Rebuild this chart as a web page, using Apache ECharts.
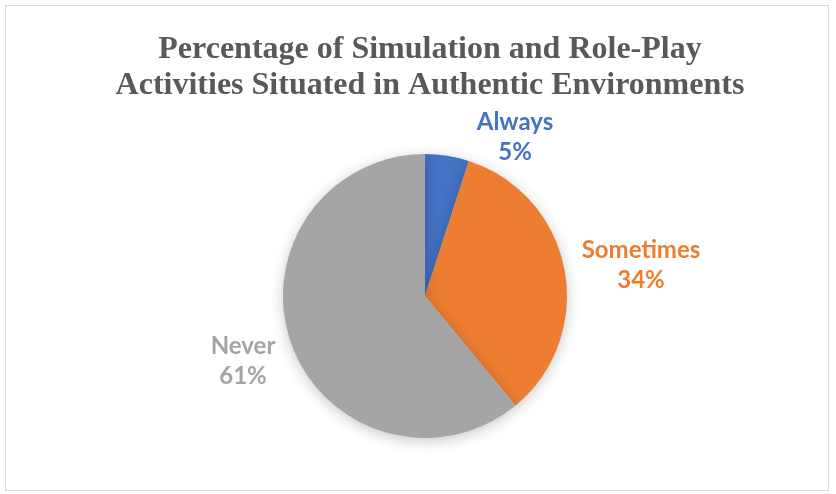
<!DOCTYPE html>
<html>
<head>
<meta charset="utf-8">
<script src="https://cdn.jsdelivr.net/npm/echarts@6/dist/echarts.min.js"></script>
<style>
  html, body { margin: 0; padding: 0; background: #fff; }
  #frame { position: absolute; left: 5px; top: 5px; width: 824px; height: 486px; border: 1px solid #d9d9d9; box-sizing: border-box; }
  #chart { width: 836px; height: 494px; position: absolute; left: 0; top: 0; }
</style>
</head>
<body>
<div id="frame"></div>
<div id="chart"></div>
<script>
// Survey answers and their shares (%)
const categories = ['Always', 'Sometimes', 'Never'];
const shares = [5, 34, 61];
const colors = ['#4472C4', '#ED7D31', '#A5A5A5'];
// Where each two-line label sits (centre of text block)
const labelSpots = [[515, 137], [641, 265], [243, 361]];

const chart = echarts.init(document.getElementById('chart'), null, { renderer: 'canvas' });

chart.setOption({
  animation: false,
  title: {
    text: 'Percentage of Simulation and Role-Play\nActivities Situated in Authentic Environments',
    left: 425,
    textAlign: 'center',
    top: 27,
    textStyle: {
      fontFamily: 'Liberation Serif',
      fontWeight: 'bold',
      fontSize: 32,
      lineHeight: 36,
      color: '#595959'
    }
  },
  series: [{
    type: 'pie',
    center: [425, 296],
    radius: [0, 142],
    startAngle: 90,
    clockwise: true,
    data: categories.map((name, i) => ({
      name: name,
      value: shares[i],
      itemStyle: { color: colors[i] },
      label: { color: colors[i] }
    })),
    itemStyle: {
      borderWidth: 0,
      shadowBlur: 14,
      shadowOffsetY: 3,
      shadowColor: 'rgba(0,0,0,0.22)'
    },
    label: {
      show: true,
      position: 'outside',
      formatter: '{b}\n{d}%',
      fontFamily: 'Lato',
      fontWeight: 'bold',
      fontSize: 24,
      lineHeight: 30,
      align: 'center'
    },
    labelLine: { show: false },
    labelLayout: function (params) {
      const p = labelSpots[params.dataIndex];
      return { x: p[0], y: p[1], align: 'center', verticalAlign: 'middle' };
    },
    emphasis: { disabled: true }
  }]
});
</script>
</body>
</html>
